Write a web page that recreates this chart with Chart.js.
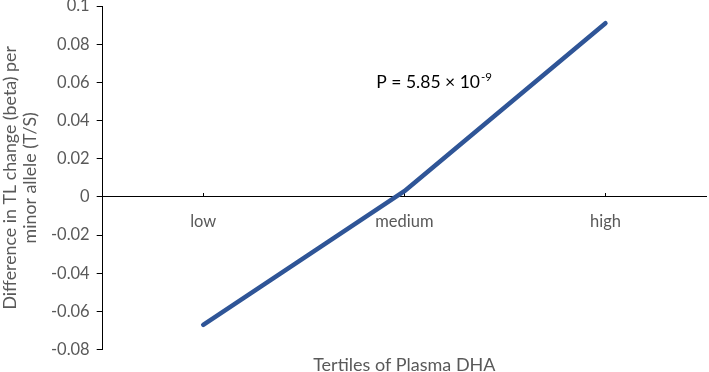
<!DOCTYPE html>
<html>
<head>
<meta charset="utf-8">
<script src="https://cdn.jsdelivr.net/npm/chart.js@4/dist/chart.umd.min.js"></script>
<style>
  html, body { margin: 0; padding: 0; background: #fff; }
  #wrap { width: 709px; height: 372px; }
</style>
</head>
<body>
<div id="wrap"><canvas id="grafico"></canvas></div>
<script>
        // datos
        const categorias = ['low', 'medium', 'high'];
        const betaDiferencia = [-0.067, 0.003, 0.091];
        const yMin = -0.08, yMax = 0.1, yPaso = 0.02;
        const tituloY = ['Difference in TL change (beta) per', 'minor allele (T/S)'];
        const tituloX = 'Tertiles of Plasma DHA';
        const textoP = 'P = 5.85 × 10';
        const exponenteP = '-9';

        const gris = '#595959';
        const fuente = 'Lato, "Open Sans", sans-serif';

        // texto del valor P con exponente
        const anotacionP = {
            id: 'anotacionP',
            afterDraw(chart) {
                const ctx = chart.ctx;
                const x = chart.scales.x.getPixelForValue(1) - 28;
                const y = chart.scales.y.getPixelForValue(0.057);
                ctx.save();
                ctx.fillStyle = '#000';
                ctx.textBaseline = 'alphabetic';
                ctx.textAlign = 'left';
                ctx.font = '17.5px ' + fuente;
                ctx.fillText(textoP, x, y);
                const w = ctx.measureText(textoP).width;
                ctx.font = '11.5px ' + fuente;
                ctx.fillText(exponenteP, x + w + 1, y - 7);
                ctx.restore();
            }
        };

        new Chart(document.getElementById('grafico'), {
            type: 'line',
            data: {
                labels: categorias,
                datasets: [{
                    data: betaDiferencia,
                    borderColor: '#2F5597',
                    borderWidth: 4.5,
                    borderCapStyle: 'round',
                    borderJoinStyle: 'round',
                    pointRadius: 0,
                    tension: 0,
                    fill: false
                }]
            },
            options: {
                responsive: true,
                maintainAspectRatio: false,
                animation: false,
                layout: { padding: { top: 6, right: 3, left: 0, bottom: 0 } },
                plugins: { legend: { display: false }, tooltip: { enabled: false } },
                scales: {
                    x: {
                        type: 'category',
                        offset: true,
                        position: { y: 0 },
                        grid: { display: true, drawOnChartArea: false, drawTicks: true, tickLength: -4, color: '#000' },
                        border: { display: true, color: '#000', width: 1 },
                        ticks: { color: gris, font: { family: fuente, size: 16.5 }, padding: 19, maxRotation: 0 }
                    },
                    x2: {
                        type: 'category',
                        labels: categorias,
                        position: 'bottom',
                        offset: true,
                        grid: { display: false, drawTicks: false },
                        border: { display: false },
                        ticks: { display: false },
                        title: { display: true, text: tituloX, color: gris, font: { family: fuente, size: 18, lineHeight: 0.8 }, padding: { top: 8, bottom: 0 } }
                    },
                    y: {
                        min: yMin,
                        max: yMax,
                        afterFit(scale) { scale.paddingTop = 0; scale.paddingBottom = 0; },
                        ticks: {
                            stepSize: yPaso,
                            color: gris,
                            font: { family: fuente, size: 16.5 },
                            padding: 7,
                            callback: v => String(Math.round(v * 100) / 100)
                        },
                        grid: { display: true, drawOnChartArea: false, drawTicks: true, tickLength: 6, color: '#000' },
                        border: { display: true, color: '#000', width: 1 },
                        title: { display: true, text: tituloY, color: gris, font: { family: fuente, size: 17.8, lineHeight: 1.15 }, padding: { top: 0, bottom: 3 } }
                    }
                }
            },
            plugins: [anotacionP]
        });
</script>
</body>
</html>
